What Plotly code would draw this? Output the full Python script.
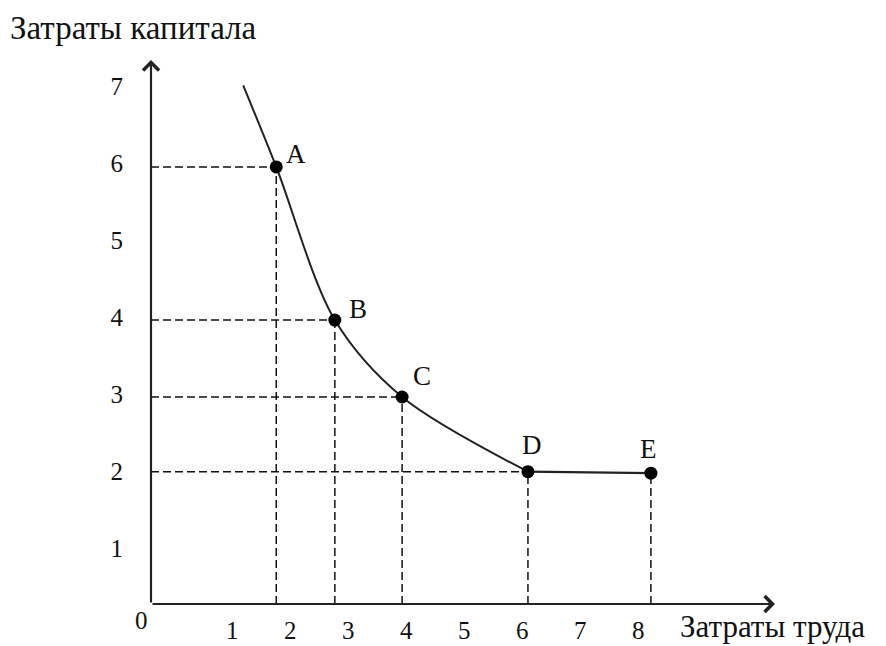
import plotly.graph_objects as go

# ---- data ----
point_names = ["A", "B", "C", "D", "E"]
labor = [1.76, 2.77, 3.93, 6.10, 8.22]      # Затраты труда
capital = [5.95, 3.96, 2.96, 1.99, 1.97]    # Затраты капитала
curve_start_labor = [1.19]
curve_start_capital = [7.01]
x_tick_values = [1, 2, 3, 4, 5, 6, 7, 8]
x_tick_labels = ["1", "2", "3", "4", "5", "6", "7", "8"]
y_tick_values = [1, 2, 3, 4, 5, 6, 7]
y_tick_labels = ["1", "2", "3", "4", "5", "6", "7"]
origin_label = "0"
x_title = "Затраты труда"
y_title = "Затраты капитала"

# ---- layout constants ----
X_MIN, X_MAX = -0.40, 10.36
Y_MIN, Y_MAX = 0.27, 7.34
FONT = "Liberation Serif, Times New Roman, serif"
INK = "#111111"
LINE = "#222222"

fig = go.Figure()

# dashed guide lines (vertical for every point, horizontal for A-D)
dx, dy = [], []
for i in range(len(labor)):
    dx += [labor[i], labor[i], None]
    dy += [Y_MIN, capital[i], None]
for i in range(4):
    dx += [X_MIN, labor[i], None]
    dy += [capital[i], capital[i], None]
fig.add_trace(go.Scatter(x=dx, y=dy, mode="lines",
                         line=dict(color=INK, width=1.5, dash="8px,4px"),
                         hoverinfo="skip", showlegend=False))

# isoquant curve (top -> A -> B -> C -> D)
fig.add_trace(go.Scatter(x=curve_start_labor + labor[:4],
                         y=curve_start_capital + capital[:4],
                         mode="lines", line=dict(color=LINE, width=2, shape="spline", smoothing=0.9),
                         hoverinfo="skip", showlegend=False))
# straight segment D -> E
fig.add_trace(go.Scatter(x=labor[3:5], y=capital[3:5], mode="lines",
                         line=dict(color=LINE, width=2.2),
                         hoverinfo="skip", showlegend=False))
# points
fig.add_trace(go.Scatter(x=labor, y=capital, mode="markers",
                         marker=dict(color="black", size=13),
                         hoverinfo="skip", showlegend=False))

annotations = []
# point labels
label_offsets = [(20, 13), (23, 11), (20, 21), (4, 27), (-2, 24)]
for name, x, y, (ox, oy) in zip(point_names, labor, capital, label_offsets):
    annotations.append(dict(x=x, y=y, xref="x", yref="y", text=name, showarrow=False,
                            xshift=ox, yshift=oy, font=dict(family=FONT, size=27, color=INK)))

# axis lines with arrows
annotations.append(dict(x=X_MAX, y=Y_MIN, ax=X_MIN, ay=Y_MIN, xref="x", yref="y",
                        axref="x", ayref="y", text="", showarrow=True, arrowhead=4,
                        arrowsize=1.4, arrowwidth=2.2, arrowcolor=LINE))
annotations.append(dict(x=X_MIN, y=Y_MAX, ax=X_MIN, ay=Y_MIN, xref="x", yref="y",
                        axref="x", ayref="y", text="", showarrow=True, arrowhead=4,
                        arrowsize=1.4, arrowwidth=2.2, arrowcolor=LINE))

# origin label
annotations.append(dict(x=X_MIN, y=Y_MIN, xref="x", yref="y", text=origin_label, showarrow=False,
                        xshift=-10, yshift=-16, font=dict(family=FONT, size=25, color=INK)))
# axis titles
annotations.append(dict(x=-0.229, y=1.058, xref="paper", yref="paper", text=y_title,
                        showarrow=False, xanchor="left", yanchor="middle",
                        font=dict(family=FONT, size=33, color=INK)))
annotations.append(dict(x=0.845, y=-0.042, xref="paper", yref="paper", text=x_title,
                        showarrow=False, xanchor="left", yanchor="middle",
                        font=dict(family=FONT, size=31, color=INK)))

# the page body adds an 8px margin, so the figure is 8px smaller and its margins shifted
fig.update_layout(
    width=878, height=638,
    margin=dict(l=143, r=111, t=52, b=42),
    paper_bgcolor="white", plot_bgcolor="white",
    template="none",
    annotations=annotations,
    xaxis=dict(range=[X_MIN, X_MAX], showgrid=False, zeroline=False, showline=False,
               ticks="", tickvals=x_tick_values, ticktext=x_tick_labels,
               ticklabelstandoff=9, automargin=False,
               tickfont=dict(family=FONT, size=25, color=INK)),
    yaxis=dict(range=[Y_MIN, Y_MAX], showgrid=False, zeroline=False, showline=False,
               ticks="", tickvals=y_tick_values, ticktext=y_tick_labels,
               ticklabelstandoff=27, automargin=False,
               tickfont=dict(family=FONT, size=25, color=INK)),
)

fig.write_html("out.html")
